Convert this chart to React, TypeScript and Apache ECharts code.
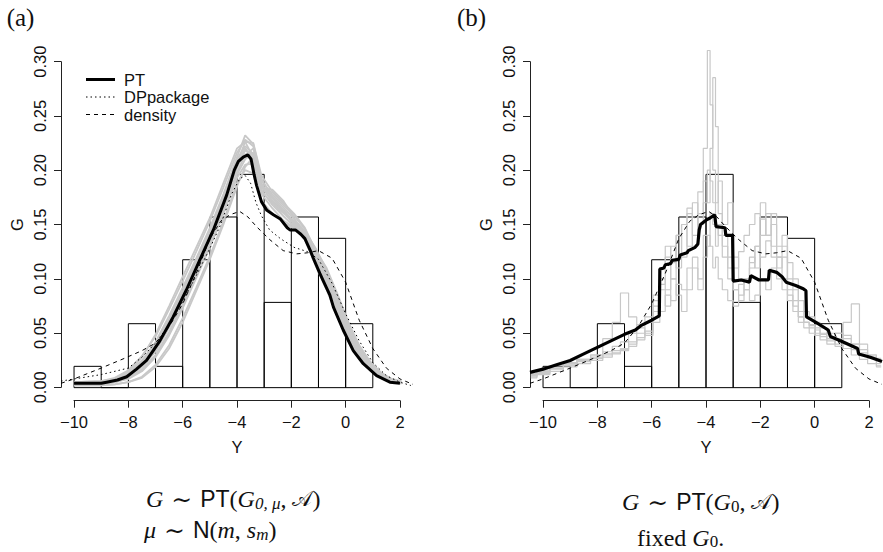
import React, { useEffect, useRef } from "react";
import * as echarts from "echarts";

// ---------- data ----------
const HIST_LEFT = [-10, -9, -8, -7, -6, -5, -4, -3, -2, -1, 0];
const HIST_RIGHT = [-9, -8, -7, -6, -5, -4, -3, -2, -1, 0, 1];
const HIST_DENS = [0.0196, 0, 0.0588, 0.0196, 0.1176, 0.1569, 0.1961, 0.0784, 0.1569, 0.1373, 0.0588];

const X_TICKS = [-10, -8, -6, -4, -2, 0, 2];
const Y_TICKS = [0, 0.05, 0.1, 0.15, 0.2, 0.25, 0.3];

const PT_A = [
  [-10, 0.004], [-9.5, 0.004], [-9, 0.004], [-8.8, 0.005], [-8.4, 0.007], [-8.06, 0.010], [-7.7, 0.017],
  [-7.33, 0.025], [-6.84, 0.043], [-6.35, 0.065], [-5.86, 0.090], [-5.36, 0.118], [-4.87, 0.145],
  [-4.38, 0.177], [-4.1, 0.200], [-3.95, 0.208], [-3.77, 0.212], [-3.6, 0.214], [-3.48, 0.210],
  [-3.38, 0.197], [-3.28, 0.186], [-3.1, 0.171], [-2.9, 0.163], [-2.66, 0.159], [-2.4, 0.155],
  [-2.15, 0.147], [-2.05, 0.145], [-1.85, 0.145], [-1.65, 0.141], [-1.5, 0.137], [-1.3, 0.126],
  [-1.19, 0.119], [-0.95, 0.105], [-0.82, 0.098], [-0.58, 0.085], [-0.45, 0.074], [-0.09, 0.053],
  [0.28, 0.034], [0.65, 0.022], [1.14, 0.011], [1.63, 0.005], [2.0, 0.004],
];

const DP_A = [
  [-10.48, 0.006], [-10, 0.008], [-9, 0.012], [-8, 0.018], [-7.5, 0.028], [-7, 0.041], [-6.5, 0.058],
  [-6, 0.079], [-5.5, 0.103], [-5, 0.128], [-4.6, 0.150], [-4.2, 0.178], [-3.9, 0.192], [-3.7, 0.195],
  [-3.5, 0.188], [-3.3, 0.170], [-3.1, 0.158], [-2.8, 0.145], [-2.4, 0.137], [-1.9, 0.129],
  [-1.4, 0.125], [-1.0, 0.118], [-0.5, 0.096], [0, 0.068], [0.5, 0.043], [1.0, 0.023], [1.5, 0.011],
  [2.0, 0.005], [2.4, 0.002],
];

const DENSITY = [
  [-10.48, 0.004], [-10, 0.008], [-9, 0.018], [-8.14, 0.027], [-7.5, 0.034], [-7, 0.041], [-6.5, 0.056],
  [-6, 0.077], [-5.5, 0.105], [-5, 0.137], [-4.6, 0.153], [-4.26, 0.159], [-3.9, 0.162], [-3.6, 0.157],
  [-3.28, 0.148], [-2.79, 0.136], [-2.3, 0.126], [-1.8, 0.123], [-1.4, 0.124], [-1.0, 0.126],
  [-0.5, 0.119], [0, 0.097], [0.5, 0.062], [1.0, 0.036], [1.5, 0.018], [2.0, 0.008], [2.48, 0.003],
];

const XS_GRAY_A = [-10, -9, -8.5, -8, -7.5, -7, -6.5, -6, -5.5, -5, -4.5, -4, -3.7, -3.4, -3.1, -2.7, -2.3, -1.9, -1.5, -1.1, -0.7, -0.3, 0.1, 0.5, 0.9, 1.3, 1.7, 2.05];
const GRAY_A1 = [0.005, 0.006, 0.009, 0.016, 0.029, 0.047, 0.072, 0.098, 0.125, 0.153, 0.184, 0.216, 0.228, 0.222, 0.190, 0.178, 0.168, 0.158, 0.146, 0.124, 0.102, 0.076, 0.052, 0.034, 0.021, 0.012, 0.007, 0.005];
const GRAY_A2 = [0.004, 0.005, 0.008, 0.013, 0.024, 0.040, 0.063, 0.089, 0.117, 0.145, 0.176, 0.210, 0.222, 0.215, 0.185, 0.172, 0.162, 0.153, 0.142, 0.118, 0.097, 0.071, 0.048, 0.031, 0.019, 0.011, 0.006, 0.005];
const GRAY_A3 = [0.003, 0.004, 0.006, 0.010, 0.019, 0.033, 0.055, 0.080, 0.108, 0.136, 0.168, 0.202, 0.218, 0.214, 0.182, 0.168, 0.158, 0.149, 0.139, 0.116, 0.095, 0.069, 0.046, 0.030, 0.018, 0.010, 0.006, 0.004];
const GRAY_A4 = [0.003, 0.003, 0.005, 0.008, 0.015, 0.028, 0.048, 0.073, 0.101, 0.129, 0.160, 0.193, 0.205, 0.206, 0.178, 0.165, 0.154, 0.147, 0.138, 0.118, 0.100, 0.075, 0.051, 0.033, 0.020, 0.011, 0.006, 0.004];
const GRAY_A5 = [0.002, 0.002, 0.003, 0.005, 0.010, 0.021, 0.039, 0.064, 0.092, 0.121, 0.153, 0.188, 0.200, 0.197, 0.172, 0.160, 0.152, 0.146, 0.140, 0.122, 0.104, 0.080, 0.055, 0.036, 0.022, 0.012, 0.007, 0.005];
const GRAY_A6 = [0.004, 0.005, 0.007, 0.012, 0.022, 0.038, 0.061, 0.087, 0.115, 0.143, 0.173, 0.206, 0.226, 0.225, 0.195, 0.180, 0.170, 0.160, 0.147, 0.126, 0.106, 0.082, 0.057, 0.037, 0.023, 0.013, 0.007, 0.005];
const GRAY_A7 = [0.003, 0.004, 0.005, 0.009, 0.017, 0.030, 0.051, 0.077, 0.105, 0.133, 0.164, 0.198, 0.214, 0.220, 0.188, 0.174, 0.164, 0.152, 0.143, 0.120, 0.099, 0.073, 0.049, 0.032, 0.019, 0.010, 0.006, 0.004];
const GRAY_A8 = [0.004, 0.004, 0.006, 0.011, 0.020, 0.035, 0.057, 0.083, 0.111, 0.139, 0.171, 0.205, 0.220, 0.210, 0.180, 0.170, 0.161, 0.151, 0.141, 0.114, 0.093, 0.066, 0.044, 0.028, 0.017, 0.010, 0.006, 0.004];
const GRAY_A9 = [0.003, 0.003, 0.005, 0.009, 0.016, 0.029, 0.050, 0.075, 0.103, 0.131, 0.162, 0.196, 0.210, 0.216, 0.186, 0.176, 0.166, 0.155, 0.144, 0.128, 0.108, 0.084, 0.058, 0.038, 0.023, 0.013, 0.007, 0.005];
const GRAY_A10 = [0.005, 0.006, 0.008, 0.014, 0.025, 0.042, 0.066, 0.092, 0.119, 0.147, 0.178, 0.212, 0.232, 0.224, 0.192, 0.175, 0.163, 0.150, 0.136, 0.112, 0.090, 0.065, 0.043, 0.028, 0.017, 0.010, 0.006, 0.005];
const GRAY_A11 = [0.004, 0.005, 0.008, 0.015, 0.028, 0.049, 0.075, 0.102, 0.129, 0.156, 0.188, 0.220, 0.226, 0.212, 0.183, 0.182, 0.172, 0.156, 0.140, 0.121, 0.101, 0.078, 0.054, 0.035, 0.021, 0.012, 0.007, 0.005];
const GRAY_A12 = [0.002, 0.002, 0.003, 0.005, 0.009, 0.019, 0.036, 0.060, 0.089, 0.118, 0.150, 0.185, 0.203, 0.212, 0.185, 0.171, 0.158, 0.148, 0.142, 0.126, 0.110, 0.086, 0.060, 0.039, 0.024, 0.014, 0.008, 0.006];

const PT_B = [
  [-10.48, 0.014], [-10, 0.017], [-9.5, 0.021], [-9, 0.025], [-8.5, 0.031], [-8, 0.037], [-7.5, 0.043],
  [-7, 0.049], [-6.6, 0.053], [-6.4, 0.057], [-6.0, 0.062], [-5.72, 0.066], [-5.7, 0.109], [-5.55, 0.110],
  [-5.5, 0.113], [-5.3, 0.114], [-5.25, 0.117], [-5.0, 0.118], [-4.95, 0.122], [-4.7, 0.124],
  [-4.65, 0.126], [-4.4, 0.129], [-4.3, 0.132], [-4.25, 0.145], [-4.2, 0.150], [-4.0, 0.154],
  [-3.85, 0.156], [-3.68, 0.159], [-3.63, 0.148], [-3.3, 0.147], [-3.27, 0.140], [-3.02, 0.140],
  [-3.0, 0.098], [-2.7, 0.099], [-2.4, 0.097], [-2.35, 0.103], [-2.05, 0.099], [-1.7, 0.099],
  [-1.67, 0.108], [-1.4, 0.106], [-1.2, 0.102], [-1.05, 0.097], [-0.7, 0.094], [-0.42, 0.091],
  [-0.32, 0.089], [-0.3, 0.065], [0.05, 0.060], [0.5, 0.053], [0.58, 0.047], [1.05, 0.042],
  [1.58, 0.036], [1.62, 0.031], [2.05, 0.028], [2.48, 0.024],
];

const XS_GRAY_B = [-10.45, -10.0, -9.5, -9.0, -8.5, -8.0, -7.6, -7.3, -7.0, -6.7, -6.4, -6.1, -5.8, -5.6, -5.4, -5.2, -5.0, -4.8, -4.6, -4.4, -4.2, -4.0, -3.9, -3.8, -3.7, -3.6, -3.5, -3.3, -3.1, -2.9, -2.7, -2.5, -2.3, -2.1, -1.9, -1.7, -1.5, -1.3, -1.1, -0.9, -0.7, -0.5, -0.3, -0.1, 0.1, 0.3, 0.6, 0.9, 1.2, 1.5, 1.8, 2.1, 2.45];
const GRAY_B1 = [0.012, 0.015, 0.018, 0.021, 0.025, 0.028, 0.031, 0.034, 0.036, 0.040, 0.046, 0.052, 0.075, 0.095, 0.12, 0.10, 0.14, 0.12, 0.16, 0.13, 0.18, 0.22, 0.31, 0.26, 0.20, 0.17, 0.19, 0.15, 0.17, 0.12, 0.10, 0.09, 0.11, 0.13, 0.17, 0.14, 0.16, 0.12, 0.13, 0.10, 0.09, 0.07, 0.06, 0.058, 0.055, 0.05, 0.045, 0.04, 0.036, 0.03, 0.026, 0.022, 0.019];
const GRAY_B2 = [0.010, 0.013, 0.017, 0.020, 0.024, 0.027, 0.030, 0.032, 0.035, 0.042, 0.050, 0.060, 0.085, 0.10, 0.09, 0.13, 0.11, 0.15, 0.13, 0.17, 0.15, 0.19, 0.17, 0.22, 0.285, 0.24, 0.16, 0.14, 0.11, 0.09, 0.08, 0.10, 0.12, 0.11, 0.14, 0.16, 0.13, 0.11, 0.12, 0.09, 0.08, 0.065, 0.06, 0.055, 0.05, 0.047, 0.043, 0.038, 0.06, 0.077, 0.04, 0.03, 0.025];
const GRAY_B3 = [0.011, 0.014, 0.018, 0.022, 0.026, 0.030, 0.045, 0.060, 0.087, 0.065, 0.055, 0.048, 0.07, 0.09, 0.075, 0.10, 0.085, 0.07, 0.09, 0.11, 0.09, 0.12, 0.14, 0.13, 0.11, 0.12, 0.10, 0.09, 0.08, 0.075, 0.085, 0.09, 0.08, 0.085, 0.10, 0.09, 0.11, 0.12, 0.10, 0.08, 0.07, 0.06, 0.055, 0.05, 0.048, 0.044, 0.04, 0.05, 0.045, 0.04, 0.035, 0.03, 0.027];
const GRAY_B4 = [0.013, 0.016, 0.020, 0.023, 0.026, 0.030, 0.033, 0.038, 0.042, 0.050, 0.058, 0.065, 0.08, 0.11, 0.13, 0.115, 0.14, 0.15, 0.165, 0.14, 0.16, 0.17, 0.20, 0.19, 0.17, 0.15, 0.14, 0.13, 0.12, 0.11, 0.125, 0.14, 0.15, 0.16, 0.155, 0.14, 0.15, 0.13, 0.14, 0.115, 0.10, 0.08, 0.07, 0.065, 0.06, 0.055, 0.05, 0.045, 0.04, 0.035, 0.03, 0.028, 0.022];
const GRAY_B5 = [0.009, 0.012, 0.015, 0.019, 0.022, 0.025, 0.028, 0.031, 0.034, 0.038, 0.044, 0.05, 0.06, 0.07, 0.085, 0.08, 0.095, 0.09, 0.11, 0.12, 0.10, 0.14, 0.13, 0.16, 0.15, 0.13, 0.15, 0.12, 0.10, 0.09, 0.095, 0.10, 0.115, 0.13, 0.12, 0.135, 0.12, 0.10, 0.09, 0.085, 0.075, 0.065, 0.06, 0.057, 0.053, 0.049, 0.045, 0.05, 0.048, 0.04, 0.032, 0.027, 0.02];

const GRAY_A = [GRAY_A1, GRAY_A2, GRAY_A3, GRAY_A4, GRAY_A5, GRAY_A6, GRAY_A7, GRAY_A8, GRAY_A9, GRAY_A10, GRAY_A11, GRAY_A12];
const GRAY_B = [GRAY_B1, GRAY_B2, GRAY_B3, GRAY_B4, GRAY_B5];

// ---------- styles ----------
const SANS = "Liberation Sans, Arial, sans-serif";
const SERIF = "Liberation Serif, Times New Roman, serif";
const TXT = "#111";
const FS = 16.5;
const GRAY = "#c8c8c8";

function fmtX(v: number) {
  return v < 0 ? "\u2212" + Math.abs(v) : String(v);
}

// histogram outline: each bin traced as a column, then back along the baseline
function histOutline() {
  const pts: number[][] = [];
  HIST_LEFT.forEach((l, i) => {
    const r = HIST_RIGHT[i];
    const h = HIST_DENS[i];
    pts.push([l, 0], [l, h], [r, h], [r, 0]);
  });
  pts.push([HIST_LEFT[0], 0]);
  return pts;
}

function lineSeries(idx: number, data: number[][], style: any, z: number, step?: any) {
  return {
    type: "line",
    xAxisIndex: idx,
    yAxisIndex: idx,
    data,
    showSymbol: false,
    symbol: "none",
    silent: true,
    step: step || false,
    z,
    lineStyle: style,
  };
}

function dataX(gi: number) {
  return { type: "value", gridIndex: gi, min: -10.48, max: 2.48, show: false };
}
function dataY(gi: number) {
  return { type: "value", gridIndex: gi, min: -0.012, max: 0.312, show: false };
}
function axisX(gi: number) {
  return {
    type: "value",
    gridIndex: gi,
    min: X_TICKS[0],
    max: X_TICKS[X_TICKS.length - 1],
    interval: 2,
    offset: 13.4,
    name: "Y",
    nameLocation: "middle",
    nameGap: 38,
    nameTextStyle: { fontFamily: SANS, fontSize: FS, color: TXT },
    axisLine: { show: true, onZero: false, lineStyle: { color: "#222", width: 1 } },
    axisTick: { show: true, length: 7, lineStyle: { color: "#222", width: 1 } },
    splitLine: { show: false },
    axisLabel: { fontFamily: SANS, fontSize: FS, color: TXT, margin: 13, formatter: fmtX },
  };
}
function axisY(gi: number) {
  return {
    type: "value",
    gridIndex: gi,
    min: Y_TICKS[0],
    max: Y_TICKS[Y_TICKS.length - 1],
    interval: 0.05,
    offset: 13,
    name: "G",
    nameLocation: "middle",
    nameRotate: 90,
    nameGap: 36,
    nameTextStyle: { fontFamily: SANS, fontSize: FS, color: TXT },
    axisLine: { show: true, onZero: false, lineStyle: { color: "#222", width: 1 } },
    axisTick: { show: true, length: 7, lineStyle: { color: "#222", width: 1 } },
    splitLine: { show: false },
    axisLabel: {
      fontFamily: SANS,
      fontSize: FS,
      color: TXT,
      rotate: 90,
      align: "center",
      verticalAlign: "bottom",
      margin: 13,
      formatter: (v: number) => v.toFixed(2),
    },
  };
}

const RICH = {
  gi: { fontFamily: SERIF, fontStyle: "italic", fontSize: 24, color: TXT },
  op: { fontFamily: "DejaVu Serif, serif", fontSize: 25, color: TXT },
  sf: { fontFamily: SANS, fontSize: 23, color: TXT },
  rm: { fontFamily: SERIF, fontSize: 24, color: TXT },
  rmb: { fontFamily: SERIF, fontSize: 24, color: TXT },
  cal: { fontFamily: "DejaVu Serif, DejaVu Sans, serif", fontSize: 21, color: TXT },
  sub: { fontFamily: SERIF, fontStyle: "italic", fontSize: 17, color: TXT, verticalAlign: "bottom", lineHeight: 10 },
  subr: { fontFamily: SERIF, fontSize: 17, color: TXT, verticalAlign: "bottom", lineHeight: 10 },
};

function formula(x: number, y: number, text: string) {
  return {
    type: "text",
    x,
    y,
    silent: true,
    style: { text, rich: RICH, align: "left", verticalAlign: "middle", fill: TXT },
  };
}

export default function App() {
  const ref = useRef<HTMLDivElement>(null);
  useEffect(() => {
    if (!ref.current) return;
    const chart = echarts.init(ref.current, undefined, { renderer: "svg" });
    const series: any[] = [];
    series.push(lineSeries(0, histOutline(), { color: "#000", width: 1 }, 1));
    GRAY_A.forEach((g) => {
      series.push(lineSeries(0, XS_GRAY_A.map((x, i) => [x, g[i]]), { color: GRAY, width: 1.8 }, 2));
    });
    series.push(lineSeries(0, DENSITY, { color: "#000", width: 1, type: [4, 4] }, 3));
    series.push(lineSeries(0, DP_A, { color: "#000", width: 1, type: [1.5, 3] }, 3));
    series.push(lineSeries(0, PT_A, { color: "#000", width: 3 }, 4));

    series.push(lineSeries(2, histOutline(), { color: "#000", width: 1 }, 1));
    GRAY_B.forEach((g) => {
      series.push(lineSeries(2, XS_GRAY_B.map((x, i) => [x, g[i]]), { color: GRAY, width: 1.2 }, 2, "middle"));
    });
    series.push(lineSeries(2, DENSITY, { color: "#000", width: 1, type: [4, 4] }, 3));
    series.push(lineSeries(2, PT_B, { color: "#000", width: 3.2 }, 4));

    const legendRows = [
      { y: 79.5, label: "PT", w: 3, dash: null as any },
      { y: 97, label: "DPpackage", w: 1, dash: [1.5, 3] },
      { y: 114.5, label: "density", w: 1, dash: [4, 4] },
    ];
    const graphic: any[] = [];
    legendRows.forEach((r) => {
      graphic.push({
        type: "line",
        silent: true,
        shape: { x1: 86, y1: r.y, x2: 115, y2: r.y },
        style: { stroke: "#000", lineWidth: r.w, lineDash: r.dash || undefined },
      });
      graphic.push({
        type: "text",
        silent: true,
        x: 124,
        y: r.y,
        style: { text: r.label, fontFamily: SANS, fontSize: FS, fill: TXT, align: "left", verticalAlign: "middle" },
      });
    });
    graphic.push({
      type: "text", silent: true, x: 20.5, y: 17.5,
      style: { text: "(a)", fontFamily: SERIF, fontSize: 25, fill: TXT, align: "center", verticalAlign: "middle" },
    });
    graphic.push({
      type: "text", silent: true, x: 471.5, y: 17.5,
      style: { text: "(b)", fontFamily: SERIF, fontSize: 25, fill: TXT, align: "center", verticalAlign: "middle" },
    });
    graphic.push(formula(146, 499, "{gi|G}{op| \u223C }{sf|PT}{rm|(}{gi|G}{sub|0, \u03BC}{rm|, }{cal|\uD835\uDC9C}{rm|)}"));
    graphic.push(formula(144, 530, "{gi|\u03BC}{op| \u223C }{sf|N}{rm|(}{gi|m}{rm|, }{gi|s}{sub|m}{rm|)}"));
    graphic.push(formula(622, 502, "{gi|G}{op| \u223C }{sf|PT}{rm|(}{gi|G}{subr|0}{rm|, }{cal|\uD835\uDC9C}{rm|)}"));
    graphic.push(formula(637, 537.5, "{rmb|fixed }{gi|G}{subr|0}{rmb|.}"));

    chart.setOption({
      animation: false,
      backgroundColor: "#fff",
      grid: [
        { left: 61, top: 48.3, width: 352, height: 352.4 },
        { left: 74, top: 61.7, width: 326, height: 325.6 },
        { left: 530, top: 48.3, width: 352, height: 352.4 },
        { left: 543, top: 61.7, width: 326, height: 325.6 },
      ],
      xAxis: [dataX(0), axisX(1), dataX(2), axisX(3)],
      yAxis: [dataY(0), axisY(1), dataY(2), axisY(3)],
      series,
      graphic,
    });
    return () => chart.dispose();
  }, []);
  return (
    <div
      ref={ref}
      style={{ position: "fixed", left: 0, top: 0, width: 883, height: 552, background: "#fff" }}
    />
  );
}
